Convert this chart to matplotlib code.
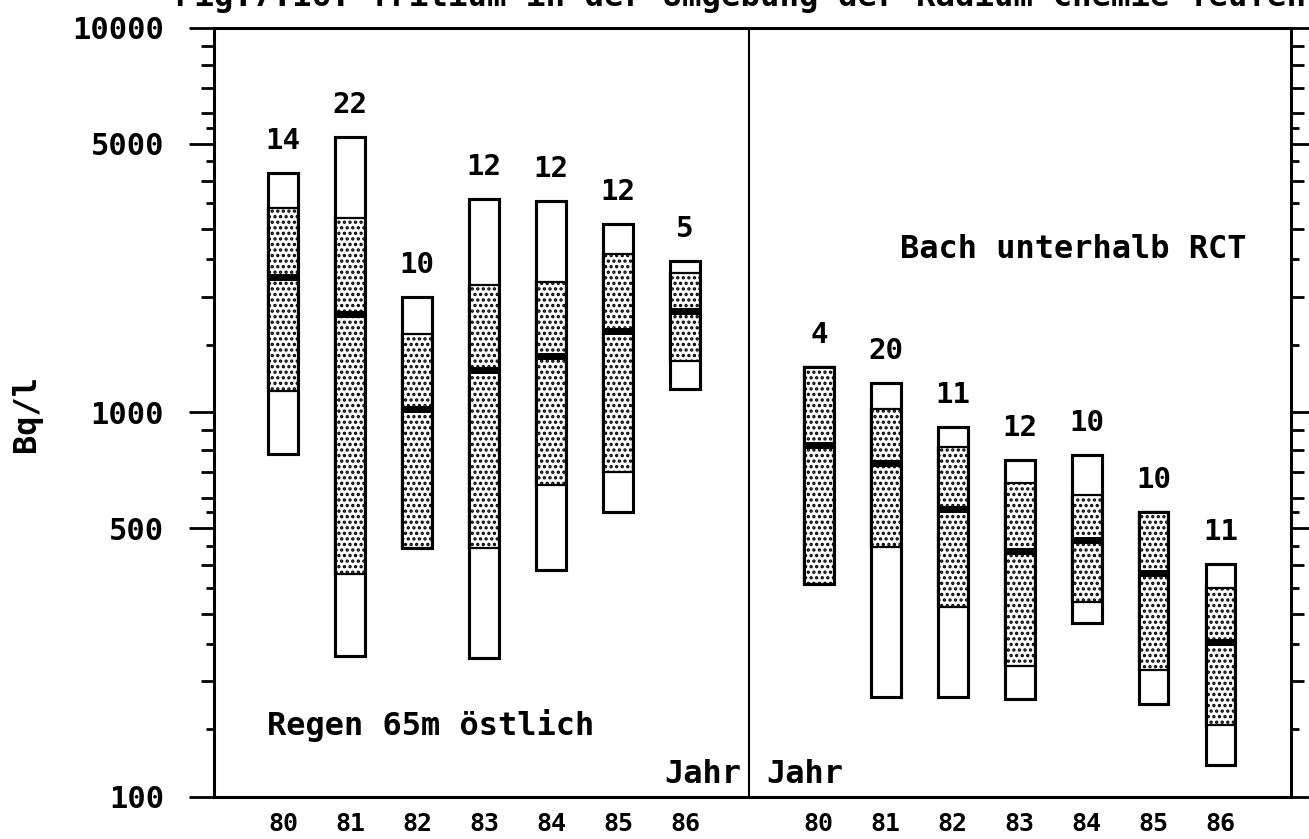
import numpy as np
import matplotlib
matplotlib.use('Agg')
import matplotlib.pyplot as plt
from matplotlib.ticker import FixedLocator, NullFormatter, FuncFormatter

# ---------------- data ----------------
years = ['80', '81', '82', '83', '84', '85', '86']

rain_label = 'Regen 65m östlich'
rain_n   = [14, 22, 10, 12, 12, 12, 5]
rain_max = [4200, 5200, 2000, 3600, 3550, 3100, 2470]
rain_q3  = [3400, 3200, 1600, 2140, 2180, 2590, 2310]
rain_med = [2250, 1800, 1020, 1290, 1400, 1630, 1840]
rain_q1  = [1140, 380, 443, 443, 646, 700, 1357]
rain_min = [780, 232, 443, 230, 389, 550, 1154]

brook_label = 'Bach unterhalb RCT'
brook_n   = [4, 20, 11, 12, 10, 10, 11]
brook_max = [1310, 1190, 914, 750, 773, 550, 403]
brook_q3  = [1310, 1018, 811, 654, 609, 550, 349]
brook_med = [821, 737, 560, 435, 465, 382, 253]
brook_q1  = [357, 446, 312, 219, 321, 214, 154]
brook_min = [357, 182, 182, 180, 283, 175, 121]

major_ticks = [100, 500, 1000, 5000, 10000]
mid_ticks = [200, 300, 400, 600, 700, 800, 900,
             2000, 3000, 4000, 6000, 7000, 8000, 9000]
short_ticks = [150, 250, 350, 450, 550, 1500, 2500, 3500, 4500, 5500]

title = 'Fig.7.16: Tritium in der Umgebung der Radium Chemie Teufen'
ylabel = 'Bq/l'
xlabel = 'Jahr'

# ---------------- style ----------------
plt.rcParams['font.family'] = ['DejaVu Sans Mono', 'DejaVu Sans']
plt.rcParams['font.weight'] = 'bold'
plt.rcParams['hatch.linewidth'] = 1.6
plt.rcParams['hatch.color'] = 'black'

fig = plt.figure(figsize=(13.09, 8.39), dpi=100)
ax = fig.add_axes([0.1635, 0.0501, 0.8228, 0.9166])
ax.set_yscale('log')
ax.set_ylim(100, 10000)
ax.set_xlim(-1.03, 15.05)

left_pos = np.arange(7)
right_pos = np.arange(7) + 8
divider = 6.95
w = 0.44


def draw_group(pos, mn, q1, med, q3, mx, n):
    mn, q1, med, q3, mx = map(np.asarray, (mn, q1, med, q3, mx))
    ax.bar(pos, mx - mn, bottom=mn, width=w, facecolor='white',
           edgecolor='black', linewidth=2.2, zorder=2)
    ax.bar(pos, q3 - q1, bottom=q1, width=w, facecolor='white',
           edgecolor='black', hatch='...', linewidth=1.6, zorder=3)
    ax.hlines(med, pos - w / 2, pos + w / 2, colors='black',
              linewidth=5, zorder=4)
    ax.bar(pos, mx - mn, bottom=mn, width=w, fill=False,
           edgecolor='black', linewidth=2.2, zorder=5)
    for x, top, k in zip(pos, mx, n):
        ax.annotate(str(k), (x, top), xytext=(0, 32),
                    textcoords='offset pixels', ha='center', va='center',
                    fontsize=21, fontweight='bold')


draw_group(left_pos, rain_min, rain_q1, rain_med, rain_q3, rain_max, rain_n)
draw_group(right_pos, brook_min, brook_q1, brook_med, brook_q3, brook_max, brook_n)

ax.axvline(divider, color='black', linewidth=1.5, zorder=1)

# ---------------- axes styling ----------------
for s in ax.spines.values():
    s.set_linewidth(2.2)

ax.yaxis.set_major_locator(FixedLocator(major_ticks))
ax.yaxis.set_major_formatter(FuncFormatter(lambda v, p: f'{int(round(v))}'))
ax.yaxis.set_minor_locator(FixedLocator(mid_ticks))
ax.yaxis.set_minor_formatter(NullFormatter())
ax.tick_params(axis='y', which='major', direction='out', length=18, width=2,
               left=True, right=True, labelleft=True, labelright=False,
               pad=18, labelsize=22)
ax.tick_params(axis='y', which='minor', direction='out', length=9.4, width=2,
               left=True, right=True)

for side in ('left', 'right'):
    sec = ax.secondary_yaxis(side)
    sec.set_ticks(short_ticks)
    sec.tick_params(axis='y', which='major', direction='out', length=5.8,
                    width=2, labelleft=False, labelright=False)
    sec.tick_params(axis='y', which='minor', length=0, width=0)
    for sp in sec.spines.values():
        sp.set_visible(False)

ax.set_xticks(np.concatenate([left_pos, right_pos]), labels=years + years)
ax.tick_params(axis='x', length=0, pad=11, labelsize=18)

ax.set_ylabel(ylabel, fontsize=23, fontweight='bold')
ax.yaxis.set_label_coords(-0.174, 0.498)
ax.yaxis.label.set_verticalalignment('center')

# panel texts
ax.text(-0.24, 145, rain_label, ha='left', va='baseline', fontsize=23,
        fontweight='bold')
ax.text(9.21, 2527, brook_label, ha='left', va='baseline', fontsize=23,
        fontweight='bold')
ax.text(6.836, 108.7, xlabel, ha='right', va='baseline', fontsize=23,
        fontweight='bold')
ax.text(7.21, 108.7, xlabel, ha='left', va='baseline', fontsize=23,
        fontweight='bold')

fig.text(175 / 1309, 1 - 6 / 839, title, ha='left', va='baseline',
         fontsize=23.3, fontweight='bold')

fig.savefig('out.png', dpi=100)
